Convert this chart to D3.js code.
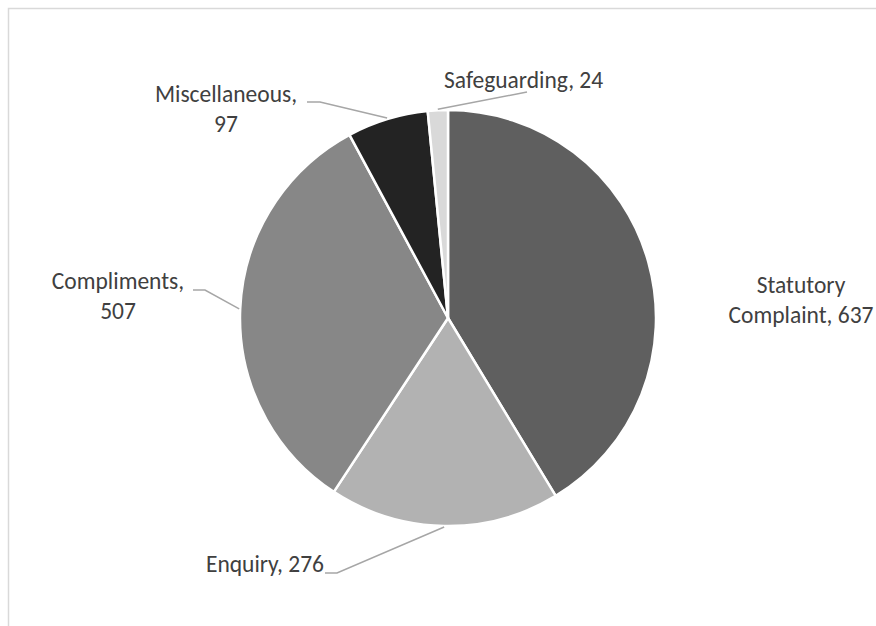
<!DOCTYPE html>
<html>
<head>
<meta charset="utf-8">
<script src="https://cdn.jsdelivr.net/npm/d3@7"></script>
<style>
  html, body { margin: 0; padding: 0; background: #fff; }
  svg { display: block; }
  text { font-family: Carlito, Lato, "Open Sans", sans-serif; fill: #404040; }
</style>
</head>
<body>
<svg id="chart" width="876" height="626"></svg>
<script>
// Contact categories and their counts, clockwise from 12 o'clock
const categories = ["Statutory Complaint", "Enquiry", "Compliments", "Miscellaneous", "Safeguarding"];
const counts = [637, 276, 507, 97, 24];
const sliceColors = ["#5f5f5f", "#b2b2b2", "#878787", "#232323", "#d9d9d9"];

// Label text lines per slice
const labelLines = [
  ["Statutory", "Complaint, 637"],
  ["Enquiry, 276"],
  ["Compliments,", "507"],
  ["Miscellaneous,", "97"],
  ["Safeguarding, 24"]
];

// Label placement: anchor point, text-anchor, and leader elbow points (null = no leader)
const labelLayout = [
  { x: 801, y: 293, anchor: "middle", leader: null },
  { x: 324, y: 572, anchor: "end", leader: [[337, 573], [325, 573]] },
  { x: 118, y: 289, anchor: "middle", leader: [[205, 290], [193, 290]] },
  { x: 226, y: 102, anchor: "middle", leader: [[320, 102], [307, 102]] },
  { x: 444, y: 88, anchor: "start", leader: [[527, 92]] }
];

const svg = d3.select("#chart");
const cx = 448, cy = 318, radius = 208;
const fontSize = 23.5, lineHeight = 29.5;

// Chart frame (extends past the right and bottom edges)
svg.append("rect")
  .attr("x", 8.5).attr("y", 8.5)
  .attr("width", 920).attr("height", 700)
  .attr("fill", "none")
  .attr("stroke", "#d9d9d9")
  .attr("stroke-width", 1.5);

const data = categories.map((c, i) => ({ category: c, value: counts[i], i }));

const pie = d3.pie().value(d => d.value).sort(null);
const arc = d3.arc().innerRadius(0).outerRadius(radius);
const arcs = pie(data);

const g = svg.append("g").attr("transform", `translate(${cx},${cy})`);

g.selectAll("path.slice")
  .data(arcs)
  .enter().append("path")
  .attr("class", "slice")
  .attr("d", arc)
  .attr("fill", d => sliceColors[d.data.i])
  .attr("stroke", "#fff")
  .attr("stroke-width", 2.5)
  .attr("stroke-linejoin", "round");

// Leader lines from slice edge midpoints to labels
arcs.forEach(a => {
  const lay = labelLayout[a.data.i];
  if (!lay.leader) return;
  const mid = (a.startAngle + a.endAngle) / 2;
  const start = [cx + Math.sin(mid) * (radius + 1), cy - Math.cos(mid) * (radius + 1)];
  const pts = [start].concat(lay.leader);
  svg.append("path")
    .attr("d", d3.line()(pts))
    .attr("fill", "none")
    .attr("stroke", "#a6a6a6")
    .attr("stroke-width", 1.5);
});

// Data labels
arcs.forEach(a => {
  const lay = labelLayout[a.data.i];
  const t = svg.append("text")
    .attr("x", lay.x).attr("y", lay.y)
    .attr("text-anchor", lay.anchor)
    .attr("font-size", fontSize);
  labelLines[a.data.i].forEach((line, k) => {
    t.append("tspan")
      .attr("x", lay.x)
      .attr("y", lay.y + k * lineHeight)
      .text(line);
  });
});
</script>
</body>
</html>
